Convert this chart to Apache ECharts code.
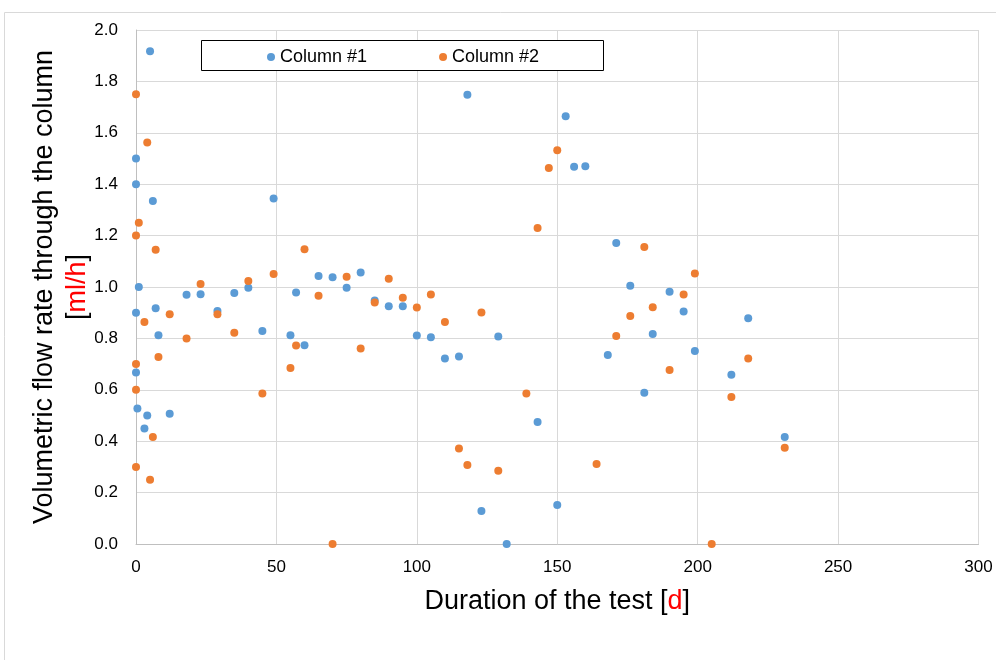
<!DOCTYPE html>
<html><head><meta charset="utf-8">
<script src="https://cdn.jsdelivr.net/npm/echarts@6/dist/echarts.min.js"></script>
<style>html,body{margin:0;padding:0;background:#fff}#c{width:996px;height:660px}</style>
</head><body><div id="c"></div>
<script>
const seriesNames = ['Column #1', 'Column #2'];
const col1X = [0,0,0,0,0.5,1,3,4,5,6,7,8,12,18,23,29,35,40,45,49,55,57,60,65,70,75,80,85,90,95,100,105,110,115,118,123,129,132,143,150,153,156,160,168,171,176,181,184,190,195,199,212,218,231];
const col1Y = [1.50,1.40,0.90,0.667,0.527,1.0,0.449,0.50,1.917,1.335,0.917,0.812,0.507,0.970,0.972,0.907,0.977,0.997,0.829,1.344,0.812,0.979,0.773,1.043,1.038,0.997,1.056,0.947,0.925,0.925,0.811,0.804,0.722,0.730,1.748,0.128,0.807,0,0.475,0.152,1.664,1.468,1.470,0.735,1.171,1.005,0.589,0.817,0.982,0.905,0.751,0.659,0.878,0.416];
const col2X = [0,0,0,0,0,1,3,4,5,6,7,8,12,18,23,29,35,40,45,49,55,57,60,65,70,75,80,85,90,95,100,105,110,115,118,123,129,139,143,147,150,164,171,176,181,184,190,195,199,205,212,218,231];
const col2Y = [1.75,1.20,0.70,0.60,0.30,1.25,0.864,1.562,0.25,0.416,1.145,0.728,0.894,0.80,1.012,0.894,0.822,1.023,0.586,1.051,0.685,0.772,1.147,0.966,0,1.040,0.761,0.940,1.032,0.958,0.920,0.971,0.864,0.372,0.307,0.901,0.285,0.586,1.23,1.463,1.532,0.311,0.809,0.887,1.156,0.921,0.677,0.971,1.053,0,0.572,0.722,0.375];
const xTitle = 'Duration of the test [{r|d}]';
const yTitle = 'Volumetric flow rate through the column\n[{r|ml/h}]';

const font = 'Liberation Sans, Arial, sans-serif';
const chart = echarts.init(document.getElementById('c'), null, {renderer: 'canvas'});
const zip = (xs, ys) => xs.map((x, i) => [x, ys[i]]);
chart.setOption({
  animation: false,
  textStyle: {fontFamily: font},
  graphic: [
    {type: 'rect', shape: {x: 4.5, y: 12.5, width: 1000, height: 700}, style: {fill: 'none', stroke: '#d9d9d9', lineWidth: 1}, z: -10},
    {type: 'rect', shape: {x: 201.5, y: 40.5, width: 402, height: 30}, style: {fill: '#fff', stroke: '#000', lineWidth: 1}, z: 5}
  ],
  legend: {
    data: seriesNames, left: 267, top: 48, padding: 0, itemGap: 72, icon: 'circle', itemWidth: 8, itemHeight: 8, z: 10,
    textStyle: {fontFamily: font, fontSize: 18, color: '#000'}
  },
  grid: {left: 136, top: 30, right: 17.5, bottom: 116},
  xAxis: {
    type: 'value', min: 0, max: 300, interval: 50,
    axisLine: {lineStyle: {color: '#bfbfbf'}}, axisTick: {show: false},
    splitLine: {lineStyle: {color: '#d9d9d9'}},
    axisLabel: {fontSize: 17, color: '#000', margin: 15, fontFamily: font},
    name: xTitle, nameLocation: 'middle', nameGap: 44, nameMoveOverlap: false,
    nameTextStyle: {fontSize: 27, color: '#000', fontFamily: font, rich: {r: {color: '#ff0000', fontSize: 27, fontFamily: font}}}
  },
  yAxis: {
    type: 'value', min: 0, max: 2, interval: 0.2,
    axisLine: {show: true, lineStyle: {color: '#bfbfbf'}}, axisTick: {show: false},
    splitLine: {lineStyle: {color: '#d9d9d9'}},
    axisLabel: {fontSize: 17, color: '#000', margin: 18, fontFamily: font, formatter: v => v.toFixed(1)},
    name: yTitle, nameLocation: 'middle', nameGap: 42, nameRotate: 90, nameMoveOverlap: false,
    nameTextStyle: {fontSize: 27, color: '#000', fontFamily: font, lineHeight: 33, align: 'center', rich: {r: {color: '#ff0000', fontSize: 27, fontFamily: font, lineHeight: 33}}}
  },
  series: [
    {name: seriesNames[0], type: 'scatter', data: zip(col1X, col1Y), symbolSize: 8, itemStyle: {color: '#5B9BD5', opacity: 1}},
    {name: seriesNames[1], type: 'scatter', data: zip(col2X, col2Y), symbolSize: 8, itemStyle: {color: '#ED7D31', opacity: 1}}
  ]
});
</script></body></html>
